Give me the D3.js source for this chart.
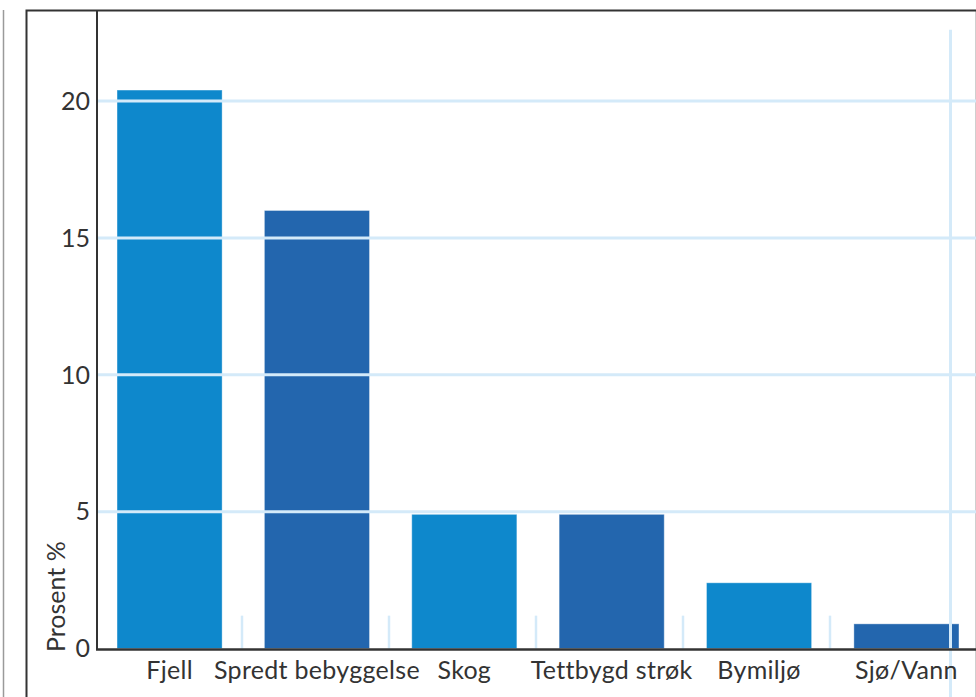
<!DOCTYPE html>
<html><head><meta charset="utf-8">
<script src="https://cdn.jsdelivr.net/npm/d3@7"></script>
<style>html,body{margin:0;padding:0;background:#fff;overflow:hidden}</style>
</head><body>
<svg id="c" width="976" height="697"></svg>
<script>
const categories = ["Fjell","Spredt bebyggelse","Skog","Tettbygd strøk","Bymiljø","Sjø/Vann"];
const values = [20.4, 16.0, 4.9, 4.9, 2.4, 0.9];
const yTicks = [0,5,10,15,20];
const yTitle = "Prosent %";
const barColors = ["#0e88cc","#2366ae"];

const W = 976, H = 697;
const svg = d3.select("#c");
const font = "'Source Sans Pro', Lato, 'Open Sans', sans-serif";

const x0 = 97, x1 = 979;
const x = d3.scaleBand().domain(categories).range([x0, x1]).paddingInner(0.287).paddingOuter(0.136);
const xb = d3.scaleBand().domain(categories).range([x0 - 2, x1 - 2]).padding(0);
const y = d3.scaleLinear().domain([0,20]).range([648.5, 101]);

// frame
svg.append("line").attr("x1",3.5).attr("x2",3.5).attr("y1",10).attr("y2",H).attr("stroke","#9a9a9a").attr("stroke-width",1.5);
svg.append("line").attr("x1",975.5).attr("x2",975.5).attr("y1",10).attr("y2",H).attr("stroke","#cfcfcf").attr("stroke-width",1);
svg.append("path").attr("d",`M26.5,${H} V10.5 H${W}`).attr("fill","none").attr("stroke","#333").attr("stroke-width",2);

// bars
svg.append("g").selectAll("rect").data(values).join("rect")
  .attr("x",(d,i)=>x(categories[i]))
  .attr("width",x.bandwidth())
  .attr("y",d=>y(d))
  .attr("height",d=>y(0)-y(d))
  .attr("fill",(d,i)=>barColors[i%2])
  .attr("stroke","rgba(255,255,255,0.35)").attr("stroke-width",1);

// gridlines over bars
svg.append("g").selectAll("line").data(yTicks.filter(t=>t>0)).join("line")
  .attr("x1",x0).attr("x2",W).attr("y1",d=>y(d)).attr("y2",d=>y(d))
  .attr("stroke","#d4eaf9").attr("stroke-width",3);

// category dividers
svg.append("g").selectAll("line").data(categories.slice(1)).join("line")
  .attr("x1",d=>xb(d)).attr("x2",d=>xb(d)).attr("y1",y(1.2)).attr("y2",y(0))
  .attr("stroke","#d4eaf9").attr("stroke-width",2.5);

// vertical reference line near right
svg.append("line").attr("x1",950.5).attr("x2",950.5).attr("y1",y(22.6)).attr("y2",H)
  .attr("stroke","#d4eaf9").attr("stroke-width",3);

// axes lines
svg.append("line").attr("x1",x0).attr("x2",x0).attr("y1",10).attr("y2",y(0)+1).attr("stroke","#333").attr("stroke-width",2);
svg.append("line").attr("x1",x0-1).attr("x2",W).attr("y1",y(0)+1).attr("y2",y(0)+1).attr("stroke","#333").attr("stroke-width",2.5);

// y tick labels
svg.append("g").selectAll("text").data(yTicks).join("text")
  .attr("x",90).attr("y",d=>y(d)).attr("dy","0.35em")
  .attr("text-anchor","end").attr("font-family",font).attr("font-size",25).attr("fill","#333")
  .text(d=>d);

// x labels
svg.append("g").selectAll("text").data(categories).join("text")
  .attr("x",d=>x(d)+x.bandwidth()/2).attr("y",679)
  .attr("text-anchor","middle").attr("font-family",font).attr("font-size",25)
  .attr("letter-spacing",0.3).attr("fill","#333")
  .text(d=>d);

// y title
svg.append("text").attr("transform",`translate(65,652) rotate(-90)`)
  .attr("text-anchor","start").attr("font-family",font).attr("font-size",25).attr("fill","#333")
  .text(yTitle);
</script>
</body></html>
